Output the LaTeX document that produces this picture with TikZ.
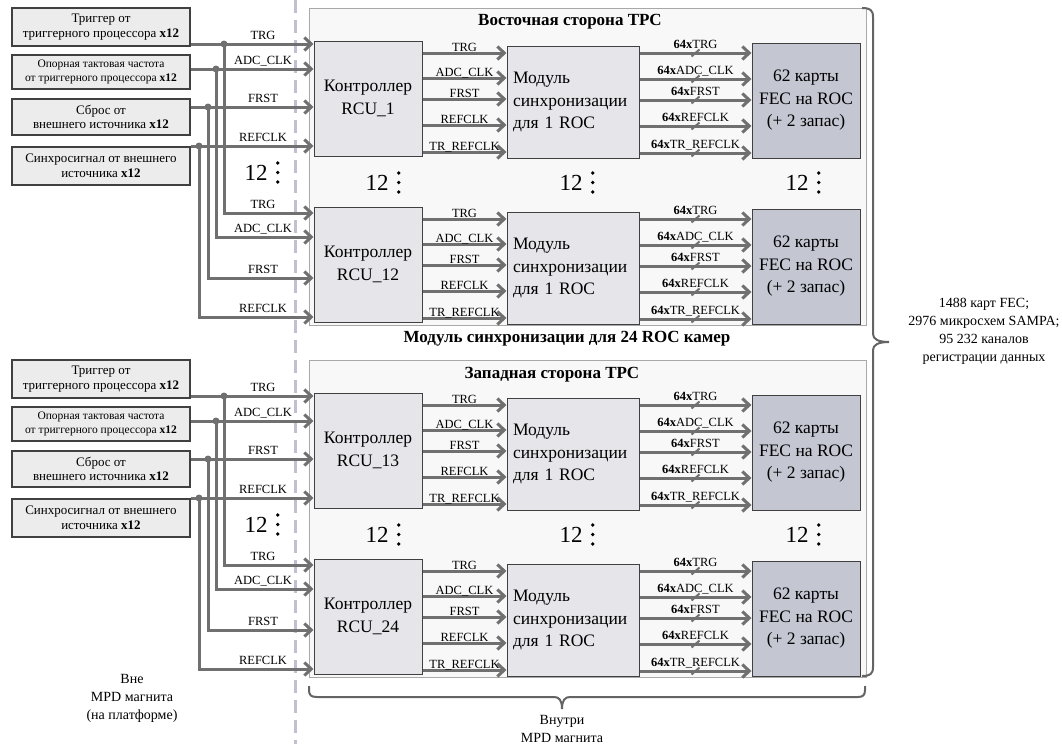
\documentclass[tikz,border=0pt]{standalone}
\usepackage{fontspec}
\setmainfont{Liberation Serif}
\usetikzlibrary{arrows.meta}
\definecolor{linegray}{RGB}{112,112,112}
\definecolor{srcfill}{RGB}{236,236,236}
\definecolor{srcdraw}{RGB}{64,64,64}
\definecolor{blkfill}{RGB}{229,229,234}
\definecolor{fecfill}{RGB}{196,198,210}
\definecolor{framefill}{RGB}{248,248,248}
\definecolor{framedraw}{RGB}{168,168,168}
\definecolor{dashcol}{RGB}{192,192,210}
\definecolor{bracecol}{RGB}{100,100,100}
\newcommand\bigf{\fontsize{17.5}{22.5}\selectfont}
\tikzset{
  srcbox/.style={draw=srcdraw, line width=1.2pt, fill=srcfill, minimum width=178pt, inner sep=0pt, align=center, font=\fontsize{13}{14.5}\selectfont},
  blk/.style={draw=srcdraw, line width=1pt, fill=blkfill, inner sep=0pt, font=\bigf},
  fecbox/.style={blk, fill=fecfill},
  framebox/.style={draw=framedraw, line width=1pt, fill=framefill, inner sep=0pt},
  sig/.style={draw=linegray, line width=3pt, -{Straight Barb[length=7pt,width=13pt]}},
  lbl/.style={font=\fontsize{12.5}{14}\selectfont, inner sep=0pt},
  dotj/.style={circle, fill=linegray, inner sep=0pt, minimum size=7pt},
  slashmark/.style={draw=linegray, line width=2pt},
  titlef/.style={font=\fontsize{17}{19}\selectfont\bfseries, inner sep=0pt},
  twelvef/.style={font=\fontsize{23}{25}\selectfont, inner sep=0pt},
  note/.style={font=\fontsize{14}{18}\selectfont, align=center, inner sep=0pt},
  bracep/.style={draw=bracecol, line width=2pt},
  dashline/.style={draw=dashcol, line width=3pt, dash pattern=on 13pt off 7pt},
}
% "12" with vertical dots
\newcommand\twelveat[3]{%
  \node[twelvef] (#1) at (#2,#3) {12};
  \fill ([shift={(10pt,10pt)}]#1.east) circle (1.9pt)
        ([shift={(10pt,0.5pt)}]#1.east) circle (1.9pt)
        ([shift={(10pt,-9pt)}]#1.east) circle (1.9pt);}
% RCU -> module line
\newcommand\rline[3]{%
  \draw[sig] (rcu#1.east |- 0,#2) -- (mod#1.west |- 0,#2)
    node[lbl, anchor=base] at (464.5,#2-2) {#3};}
% module -> FEC line with bus mark
\newcommand\fline[4]{%
  \draw[sig] (mod#1.east |- 0,#2) -- coordinate[pos=0.5] (bm#1#4) (fec#1.west |- 0,#2)
    node[lbl, anchor=base] at (695.5,#2-4.5) {\textbf{64x}#3};
  \draw[slashmark] ([shift={(-4pt,-3.5pt)}]bm#1#4) -- ([shift={(4pt,3.5pt)}]bm#1#4);}
% one RCU / module / FEC chain
\newcommand\rcugroup[3]{%
  \node[blk, minimum width=108pt, minimum height=115pt, align=center] (rcu#1) at (368,#2+98.5) {Контроллер\\RCU\_#3};
  \node[blk, minimum width=132pt, minimum height=112pt, text width=120pt, align=left] (mod#1) at (573,#2+102) {Модуль\\синхронизации\\для 1 ROC};
  \node[fecbox, minimum width=108pt, minimum height=115pt, align=center] (fec#1) at (806,#2+100.5) {62 карты\\FEC на ROC\\(+ 2 запас)};
  \rline{#1}{#2+53}{TRG}
  \rline{#1}{#2+78}{ADC\_CLK}
  \rline{#1}{#2+99}{FRST}
  \rline{#1}{#2+125}{REFCLK}
  \rline{#1}{#2+152}{TR\_REFCLK}
  \fline{#1}{#2+53}{TRG}{a}
  \fline{#1}{#2+79}{ADC\_CLK}{b}
  \fline{#1}{#2+100}{FRST}{c}
  \fline{#1}{#2+126}{REFCLK}{d}
  \fline{#1}{#2+153}{TR\_REFCLK}{e}}
% source boxes
\newcommand\srcblock[2]{%
  \node[srcbox, minimum height=38pt] (#1a) at (101,#2+27) {Триггер от\\триггерного процессора \textbf{x12}};
  \node[srcbox, minimum height=34pt, font=\fontsize{11.5}{13.5}\selectfont] (#1b) at (101,#2+72) {Опорная тактовая частота\\от триггерного процессора \textbf{x12}};
  \node[srcbox, minimum height=36pt] (#1c) at (101,#2+117) {Сброс от\\внешнего источника \textbf{x12}};
  \node[srcbox, minimum height=38pt] (#1d) at (101,#2+166) {Синхросигнал от внешнего\\источника \textbf{x12}};}
% input signal: src, y1, upper rcu, xj, y2, lower rcu, label
\newcommand\inp[7]{%
  \draw[sig] (#1.east |- 0,#2) -- (#3.west |- 0,#2)
    node[lbl, anchor=base] at (263,#2-4.5) {#7};
  \coordinate (j#1) at (#4,#2);
  \draw[sig] (j#1) |- (#6.west |- 0,#5)
    node[lbl, anchor=base] at (263,#5-4.5) {#7};
  \node[dotj] (dj#1) at (j#1) {};}
\begin{document}
\begin{tikzpicture}[x=1pt,y=-1pt]
\useasboundingbox (0,0) rectangle (1062,744);
\draw[dashline] (295,0) -- (295,744);
% frames
\node[framebox, minimum width=557pt, minimum height=317pt] (eastF) at (587.5,166.5) {};
\node[framebox, minimum width=557pt, minimum height=317pt] (westF) at (587.5,518.5) {};
\node[titlef] (eastT) at (570,22) {Восточная сторона TPC};
\node[titlef] (westT) at (552,375) {Западная сторона TPC};
\node[titlef] (mainT) at (567,339) {Модуль синхронизации для 24 ROC камер};
% chains
\rcugroup{A}{0}{1}
\rcugroup{B}{166}{12}
\rcugroup{C}{352}{13}
\rcugroup{D}{518}{24}
% sources
\srcblock{e}{0}
\srcblock{w}{352}
\inp{ea}{44}{rcuA}{224}{213}{rcuB}{TRG}
\inp{eb}{69}{rcuA}{216}{237}{rcuB}{ADC\_CLK}
\inp{ec}{107}{rcuA}{208}{278}{rcuB}{FRST}
\inp{ed}{146}{rcuA}{199}{317}{rcuB}{REFCLK}
\inp{wa}{396}{rcuC}{224}{565}{rcuD}{TRG}
\inp{wb}{421}{rcuC}{216}{589}{rcuD}{ADC\_CLK}
\inp{wc}{459}{rcuC}{208}{630}{rcuD}{FRST}
\inp{wd}{498}{rcuC}{199}{669}{rcuD}{REFCLK}
% 12 dots
\twelveat{t1}{256}{173}
\twelveat{t2}{377}{183}
\twelveat{t3}{571}{183}
\twelveat{t4}{797}{183}
\twelveat{t5}{256}{525}
\twelveat{t6}{377}{535}
\twelveat{t7}{571}{535}
\twelveat{t8}{797}{535}
% braces
\draw[bracep] (862,8) .. controls (870,8) and (873,10) .. (873,17) -- (873,334)
  .. controls (873,339) and (878,342) .. (889,342)
  .. controls (878,342) and (873,345) .. (873,350) -- (873,667)
  .. controls (873,674) and (870,676) .. (862,676);
\draw[bracep] (309,686) -- (309,690) .. controls (309,695) and (311,697) .. (317,697) -- (554,697)
  .. controls (559,697) and (562,700) .. (562,709)
  .. controls (562,700) and (565,697) .. (570,697) -- (858,697)
  .. controls (863,697) and (865,695) .. (865,690) -- (865,686);
% notes
\node[note] (total) at (984,331) {1488 карт FEC;\\2976 микросхем SAMPA;\\95 232 каналов\\регистрации данных};
\node[note] (outside) at (132,698) {Вне\\MPD магнита\\(на платформе)};
\node[note] (inside) at (562,729) {Внутри\\MPD магнита};
\end{tikzpicture}
\end{document}
